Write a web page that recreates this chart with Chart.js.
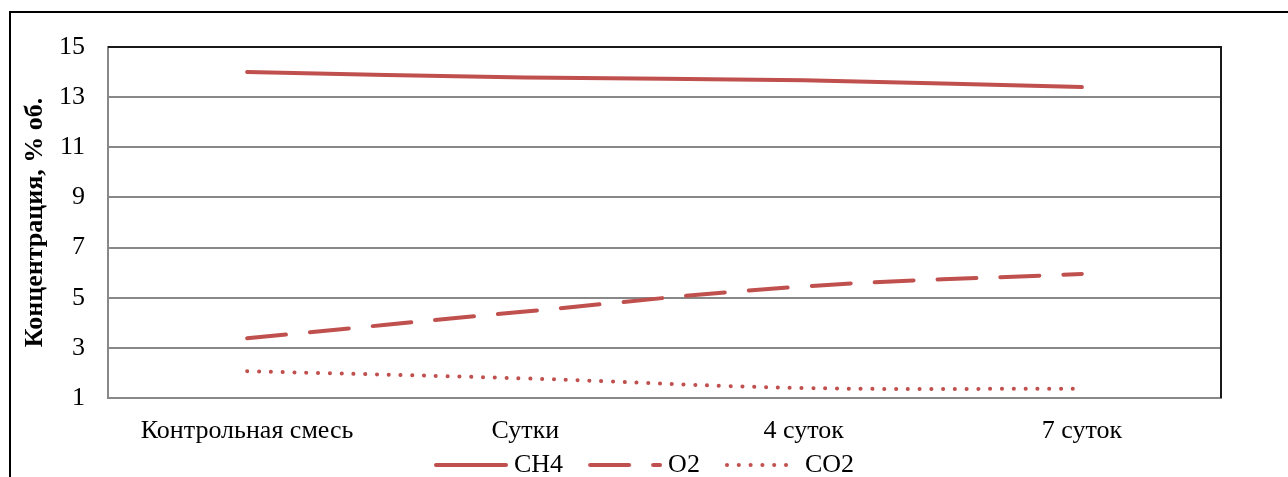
<!DOCTYPE html>
<html>
<head>
<meta charset="utf-8">
<script src="https://cdn.jsdelivr.net/npm/chart.js@4/dist/chart.umd.min.js"></script>
<style>
    html, body { margin: 0; padding: 0; background: #fff; }
    #wrap { width: 1288px; height: 477px; }
</style>
</head>
<body>
<div id="wrap"><canvas id="gasChart" width="1288" height="477"></canvas></div>
<script>
const categories = ['Контрольная смесь', 'Сутки', '4 суток', '7 суток'];
const ch4Values = [14.0, 13.78, 13.67, 13.4];
const o2Values = [3.38, 4.45, 5.45, 5.95];
const co2Values = [2.07, 1.78, 1.4, 1.37];
const yTicks = [1, 3, 5, 7, 9, 11, 13, 15];

const RED = '#C0504D';
const FONT = '"Liberation Serif", "Times New Roman", serif';

// картинка для легенды: пустое место слева + отрезок линии нужного стиля
function legendLine(dash) {
    const c = document.createElement('canvas');
    c.width = 102; c.height = 10;
    const g = c.getContext('2d');
    g.strokeStyle = RED;
    g.lineWidth = 4;
    g.lineCap = 'round';
    g.setLineDash(dash);
    g.beginPath();
    g.moveTo(30, 5);
    g.lineTo(100, 5);
    g.stroke();
    return c;
}

const frame = {
    id: 'frame',
    afterLayout(chart) {
        // легенда в оригинале центрирована по всей ширине рисунка
        chart.legend.left += 13;
        chart.legend.right += 13;
    },
    beforeDraw(chart) {
        const ctx = chart.ctx;
        ctx.save();
        ctx.strokeStyle = '#000';
        ctx.lineWidth = 2;
        ctx.beginPath();
        ctx.moveTo(10, 477);
        ctx.lineTo(10, 12);
        ctx.lineTo(1288, 12);
        ctx.stroke();
        ctx.restore();
    },
    afterDatasetsDraw(chart) {
        const a = chart.chartArea;
        const ctx = chart.ctx;
        ctx.save();
        ctx.strokeStyle = '#1a1a1a';
        ctx.lineWidth = 2;
        ctx.beginPath();
        ctx.moveTo(a.left, a.top);
        ctx.lineTo(a.right, a.top);
        ctx.lineTo(a.right, a.bottom);
        ctx.stroke();
        ctx.restore();
    }
};

new Chart(document.getElementById('gasChart'), {
    type: 'line',
    data: {
        labels: categories,
        datasets: [
            { label: 'CH4', data: ch4Values, borderColor: RED, borderWidth: 4, borderCapStyle: 'round',
              pointRadius: 0, tension: 0.4, pointStyle: legendLine([]) },
            { label: 'O2', data: o2Values, borderColor: RED, borderWidth: 4, borderCapStyle: 'round',
              borderDash: [39, 24], pointRadius: 0, tension: 0.4, pointStyle: legendLine([39, 24]) },
            { label: 'CO2', data: co2Values, borderColor: RED, borderWidth: 4, borderCapStyle: 'round',
              borderDash: [0.1, 11.7], pointRadius: 0, tension: 0.4, pointStyle: legendLine([0.1, 11.7]) }
        ]
    },
    options: {
        responsive: false,
        animation: false,
        layout: { padding: { left: 20, top: 47, right: 67, bottom: 0 } },
        plugins: {
            legend: {
                position: 'bottom',
                maxHeight: 29,
                labels: {
                    usePointStyle: true,
                    pointStyleWidth: 88,
                    color: '#000',
                    font: { family: FONT, size: 26 },
                    padding: 4,
                    boxHeight: 10
                }
            },
            tooltip: { enabled: false }
        },
        scales: {
            x: {
                offset: true,
                grid: { display: false, drawTicks: false },
                border: { color: '#888', width: 2 },
                ticks: { color: '#000', font: { family: FONT, size: 26 }, padding: 18, maxRotation: 0 },
                afterFit: function (scale) { scale.height = 50; }
            },
            y: {
                min: 1,
                max: 15,
                afterBuildTicks: function (scale) { scale.ticks = yTicks.map(v => ({ value: v })); },
                grid: { color: '#888', lineWidth: 2, drawTicks: false },
                border: { color: '#888', width: 2 },
                ticks: { color: '#000', font: { family: FONT, size: 26 }, padding: 23 },
                title: {
                    display: true,
                    text: 'Концентрация, % об.',
                    color: '#000',
                    font: { family: FONT, size: 26, weight: 'bold' },
                    padding: 0
                },
                afterFit: function (scale) { scale.width = 88; }
            }
        }
    },
    plugins: [frame]
});
</script>
</body>
</html>
